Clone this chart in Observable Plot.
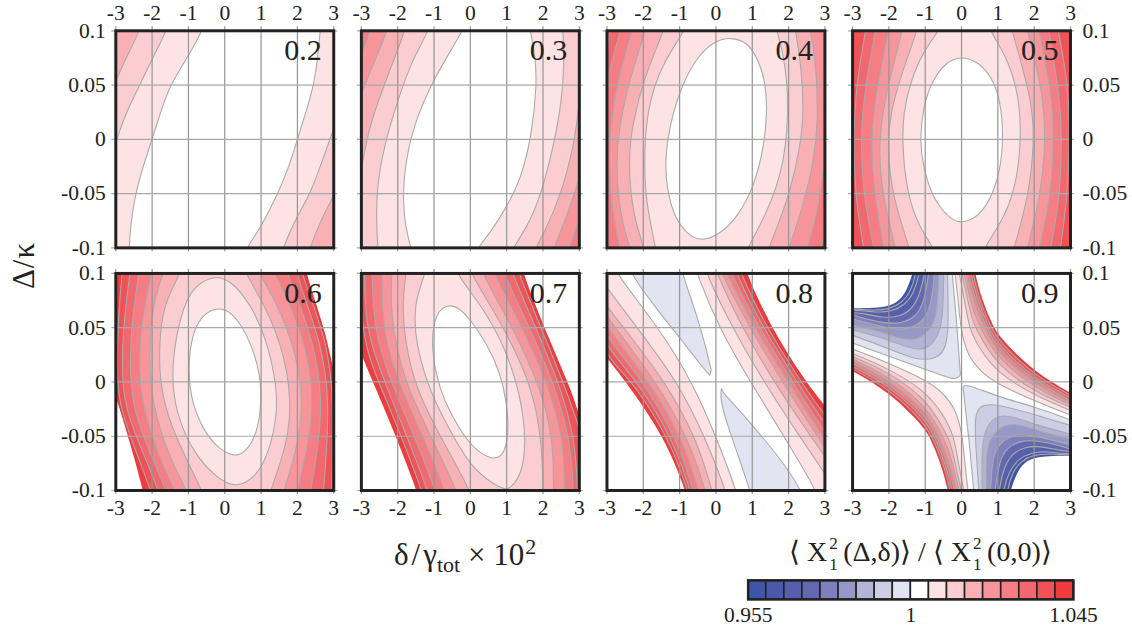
<!DOCTYPE html>
<html><head><meta charset="utf-8">
<script src="https://cdn.jsdelivr.net/npm/d3@7"></script>
<script src="https://cdn.jsdelivr.net/npm/@observablehq/plot@0.6"></script>
<style>
html,body{margin:0;padding:0;background:#fff}
#page{position:relative;width:1132px;height:630px;overflow:hidden;font-family:"Liberation Serif",serif;color:#222}
#main,#legend{position:absolute}
#main{left:0;top:0}
#legend{left:700px;top:578px}
.lab{position:absolute;white-space:nowrap;line-height:1}
sup,sub{line-height:0}
.stack{display:inline-block;position:relative;width:12px;height:0;margin:0 2px}
.stack span{position:absolute;left:0;font-size:17px;line-height:17px}
.stack .up{top:-26px}
.stack .dn{top:-5px}
</style></head><body>
<div id="page">
<div id="main"></div>
<div id="legend"></div>
<div class="lab" style="left:394px;top:539px;font-size:31px">δ<span style="margin:0 3px">/</span>γ<sub style="font-size:22px">tot</sub> × 10<sup style="font-size:22px;margin-left:1px">2</sup></div>
<div class="lab" style="left:-7px;top:250px;width:60px;text-align:center;font-size:31px;letter-spacing:1px;transform:rotate(-90deg)">Δ/κ</div>
<div class="lab" style="left:789px;top:538px;font-size:28px">⟨ X<span class="stack"><span class="up">2</span><span class="dn">1</span></span>(Δ,δ)⟩ / ⟨ X<span class="stack"><span class="up">2</span><span class="dn">1</span></span>(0,0)⟩</div>
</div>
<script>
// Scale and axis values
const xTicks = [-3,-2,-1,0,1,2,3];
const yTicks = [-0.1,-0.05,0,0.05,0.1];
const panelLabels = ["0.2","0.3","0.4","0.5","0.6","0.7","0.8","0.9"];
const levels = [-9,-8,-7,-6,-5,-4,-3,-2,-1,0,1,2,3,4,5,6,7,8];
const levelColors = ["#3f55a8","#4a59a9","#565fac","#6368b0","#7d80bc","#9797c8","#b3b3d8","#cdcde6","#e3e4f1","#ffffff","#fde3e4","#fbccd0","#f9b0b5","#f7959b","#f57d83","#f3686e","#f15258","#ef3b3e"];
const legendStart = [0.955,0.96,0.965,0.97,0.975,0.98,0.985,0.99,0.995,1,1.005,1.01,1.015,1.02,1.025,1.03,1.035,1.04];
const legendTicks = [0.955,1,1.045];

// Side of the frame a contour is closed against
const L="L", R="R", O="O", A="A"; // left lobe, right lobe, closed ring, whole panel

// Contours: [level, closure, [δ, Δ] points], painted in order
const c02 = [
 [1,L,[[-.55,.11],[-.62,.1],[-1,.077],[-1.5,.05],[-1.72,.03],[-2,0],[-2.25,-.025],[-2.46,-.05],[-2.6,-.08],[-2.63,-.1],[-2.63,-.11]]],
 [2,L,[[-1.55,.11],[-1.6,.1],[-2,.074],[-2.34,.05],[-2.73,.024],[-2.97,0],[-3.1,-.012]]],
 [3,L,[[-2.3,.11],[-2.34,.1],[-2.69,.077],[-3,.054],[-3.1,.045]]],
 [1,R,[[.5,-.11],[.6,-.1],[1,-.081],[1.46,-.05],[1.75,-.027],[2,0],[2.28,.03],[2.45,.05],[2.56,.075],[2.63,.1],[2.64,.11]]],
 [2,R,[[1.55,-.11],[1.6,-.1],[2,-.07],[2.36,-.05],[2.68,-.02],[2.95,.005],[3.1,.02]]],
 [3,R,[[2.28,-.11],[2.34,-.1],[2.64,-.075],[2.95,-.055],[3.1,-.045]]]
];
const c03 = [
 [1,L,[[-.12,.11],[-.2,.1],[-1,.057],[-1.6,.011],[-1.83,-.032],[-1.85,-.056],[-1.79,-.081],[-1.63,-.1],[-1.58,-.11]]],
 [1,R,[[.1,-.11],[.2,-.1],[.55,-.086],[1,-.062],[1.38,-.038],[1.70,.005],[1.83,.051],[1.79,.076],[1.65,.1],[1.6,.11]]],
 [2,L,[[-1.08,.11],[-1.15,.1],[-1.6,.073],[-1.97,.039],[-2.39,-.007],[-2.57,-.044],[-2.59,-.071],[-2.55,-.1],[-2.52,-.11]]],
 [2,R,[[1.1,-.11],[1.17,-.1],[1.56,-.081],[1.93,-.053],[2.29,-.007],[2.52,.036],[2.59,.073],[2.55,.1],[2.52,.11]]],
 [3,L,[[-1.75,.11],[-1.79,.1],[-2.38,.05],[-2.8,.01],[-2.95,-.02],[-3.05,-.03]]],
 [3,R,[[1.73,-.11],[1.79,-.1],[2.02,-.087],[2.48,-.053],[2.84,-.007],[2.95,.02],[3.05,.05]]],
 [4,L,[[-2.25,.11],[-2.29,.1],[-2.57,.077],[-2.94,.048],[-3.05,.035]]],
 [4,R,[[2.24,-.11],[2.29,-.1],[2.66,-.071],[2.95,-.041],[3.05,-.03]]],
 [5,L,[[-2.72,.11],[-2.75,.1],[-2.98,.079],[-3.05,.07]]],
 [5,R,[[2.68,-.11],[2.71,-.1],[2.95,-.079],[3.05,-.07]]]
];
const c04 = [
 [1,A,[]],
 [0,O,[[.39,.094],[.86,.09],[1.18,.073],[1.37,.051],[1.41,.027],[1.34,-.004],[1.05,-.044],[.59,-.072],[.08,-.088],[-.38,-.094],[-.79,-.088],[-1.16,-.071],[-1.36,-.044],[-1.4,-.019],[-1.29,.011],[-.97,.048],[-.51,.077],[-.01,.091]]],
 [2,L,[[-.8,.11],[-.85,.1],[-1.48,.07],[-1.89,.03],[-1.98,-.016],[-1.94,-.056],[-1.66,-.1],[-1.62,-.11]]],
 [2,R,[[.8,-.11],[.86,-.1],[1.41,-.068],[1.87,-.025],[1.99,.021],[1.96,.054],[1.83,.082],[1.67,.1],[1.63,.11]]],
 [3,L,[[-1.38,.11],[-1.43,.1],[-1.98,.057],[-2.3,.014],[-2.42,-.019],[-2.3,-.068],[-1.98,-.1],[-1.93,-.11]]],
 [3,R,[[1.4,-.11],[1.44,-.1],[1.96,-.059],[2.33,-.007],[2.42,.027],[2.35,.067],[2.19,.1],[2.15,.11]]],
 [4,L,[[-1.9,.11],[-1.94,.1],[-2.39,.054],[-2.67,.011],[-2.76,-.025],[-2.62,-.075],[-2.35,-.1],[-2.3,-.11]]],
 [4,R,[[1.96,-.11],[2.01,-.1],[2.42,-.059],[2.7,-.019],[2.81,.014],[2.77,.067],[2.6,.1],[2.56,.11]]],
 [5,L,[[-2.26,.11],[-2.3,.1],[-2.67,.06],[-2.88,.02],[-2.96,-.02],[-2.88,-.06],[-2.65,-.1],[-2.61,-.11]]],
 [5,R,[[2.46,-.11],[2.51,-.1],[2.78,-.07],[2.93,-.035],[3.05,-.005]]],
 [6,L,[[-2.58,.11],[-2.62,.1],[-2.9,.07],[-3.05,.04]]],
 [6,R,[[2.84,-.11],[2.88,-.1],[3.05,-.08]]],
 [7,L,[[-2.88,.11],[-2.92,.1],[-3.05,.07]]]
];
const c05 = [
 [1,A,[]],
 [0,O,[[0,.077],[.48,.071],[.84,.057],[1.07,.036],[1.15,.005],[1.09,-.025],[.84,-.053],[.48,-.071],[0,-.078],[-.35,-.073],[-.81,-.053],[-1.06,-.025],[-1.15,-.001],[-1.06,.03],[-.81,.054],[-.44,.071]]],
 [2,L,[[-.55,.11],[-.61,.1],[-1.04,.082],[-1.4,.054],[-1.61,.024],[-1.63,-.007],[-1.5,-.05],[-1.17,-.081],[-.76,-.1],[-.7,-.11]]],
 [2,R,[[.55,-.11],[.61,-.1],[1.21,-.071],[1.53,-.038],[1.64,.002],[1.6,.036],[1.3,.073],[.78,.1],[.72,.11]]],
 [3,L,[[-1.17,.11],[-1.22,.1],[-1.72,.054],[-1.95,.024],[-2.05,-.004],[-1.91,-.053],[-1.43,-.1],[-1.38,-.11]]],
 [3,R,[[1.39,-.11],[1.44,-.1],[1.85,-.053],[2.01,-.001],[1.94,.036],[1.39,.1],[1.33,.11]]],
 [4,L,[[-1.58,.11],[-1.63,.1],[-2.09,.042],[-2.28,-.001],[-2.23,-.044],[-1.82,-.1],[-1.77,-.11]]],
 [4,R,[[1.76,-.11],[1.81,-.1],[2.17,-.053],[2.33,-.001],[2.22,.048],[1.81,.1],[1.76,.11]]],
 [5,L,[[-1.96,.11],[-2,.1],[-2.37,.042],[-2.5,-.001],[-2.41,-.05],[-2.14,-.1],[-2.1,-.11]]],
 [5,R,[[2.09,-.11],[2.13,-.1],[2.45,-.056],[2.54,-.001],[2.5,.039],[2.13,.1],[2.08,.11]]],
 [6,L,[[-2.33,.11],[-2.37,.1],[-2.69,.042],[-2.78,-.001],[-2.69,-.056],[-2.41,-.1],[-2.37,-.11]]],
 [6,R,[[2.41,-.11],[2.45,-.1],[2.7,-.056],[2.77,-.001],[2.7,.042],[2.4,.1],[2.36,.11]]],
 [7,L,[[-2.6,.11],[-2.64,.1],[-2.9,.051],[-2.98,-.001],[-2.92,-.056],[-2.69,-.1],[-2.65,-.11]]],
 [7,R,[[2.68,-.11],[2.72,-.1],[2.91,-.056],[2.98,-.001],[2.94,.051],[2.66,.1],[2.62,.11]]]
];
const c06 = [
 [2,A,[]],
 [1,O,[[-.3,.098],[.16,.094],[.71,.072],[1.17,.038],[1.44,-.005],[1.44,-.035],[1.12,-.075],[.71,-.091],[.29,-.097],[-.21,-.089],[-.85,-.066],[-1.27,-.035],[-1.45,-.005],[-1.42,.029],[-1.13,.072],[-.81,.089]]],
 [0,O,[[-.26,.068],[.06,.067],[.43,.055],[.8,.029],[.98,.005],[1.01,-.02],[.89,-.048],[.57,-.065],[.27,-.069],[-.17,-.062],[-.58,-.045],[-.9,-.02],[-1.01,.008],[-.93,.042],[-.62,.062]]],
 [3,L,[[-1.17,.11],[-1.22,.1],[-1.68,.072],[-1.82,.035],[-1.77,-.011],[-1.36,-.051],[-.62,-.1],[-.55,-.11]]],
 [3,R,[[1.2,-.11],[1.26,-.1],[1.72,-.057],[1.85,-.017],[1.58,.035],[.98,.078],[.57,.1],[.5,.11]]],
 [4,L,[[-1.63,.11],[-1.68,.1],[-2,.072],[-2.09,.02],[-2,-.02],[-1.54,-.069],[-1.04,-.1],[-.98,-.11]]],
 [4,R,[[1.57,-.11],[1.62,-.1],[2.04,-.057],[2.16,-.011],[1.9,.035],[1.35,.078],[.94,.1],[.88,.11]]],
 [5,L,[[-1.98,.11],[-2.02,.1],[-2.32,.051],[-2.37,.008],[-2.23,-.026],[-1.82,-.069],[-1.36,-.1],[-1.3,-.11]]],
 [5,R,[[1.94,-.11],[1.99,-.1],[2.31,-.057],[2.45,-.011],[2.22,.035],[1.72,.078],[1.35,.1],[1.3,.11]]],
 [6,L,[[-2.34,.11],[-2.37,.1],[-2.58,.051],[-2.62,.005],[-2.48,-.03],[-2.05,-.066],[-1.61,-.1],[-1.55,-.11]]],
 [6,R,[[2.32,-.11],[2.36,-.1],[2.59,-.057],[2.68,-.011],[2.45,.035],[1.99,.078],[1.72,.1],[1.66,.11]]],
 [7,L,[[-2.58,.11],[-2.61,.1],[-2.8,.051],[-2.84,0],[-2.68,-.03],[-2.28,-.063],[-1.82,-.1],[-1.77,-.11]]],
 [7,R,[[2.69,-.11],[2.72,-.1],[2.82,-.057],[2.86,-.011],[2.65,.035],[2.19,.078],[1.99,.1],[1.93,.11]]],
 [8,L,[[-2.8,.11],[-2.83,.1],[-2.95,.051],[-2.97,0],[-2.86,-.025],[-2.5,-.06],[-2.03,-.1],[-1.98,-.11]]],
 [8,R,[[2.94,-.11],[2.95,-.1],[2.97,-.04],[2.97,-.011],[2.82,.035],[2.36,.078],[2.13,.1],[2.08,.11]]]
];
const c07 = [
 [2,A,[]],
 [1,O,[[-.33,.11],[-.41,.1],[.28,.072],[.92,.035],[1.38,-.011],[1.54,-.054],[1.42,-.085],[1.1,-.098],[.92,-.1],[.09,-.082],[-.46,-.051],[-1.1,-.011],[-1.51,.035],[-1.56,.072],[-1.24,.1],[-1.2,.11]]],
 [0,O,[[-.64,.072],[-.28,.068],[.05,.055],[.46,.035],[.83,.008],[1.01,-.02],[1.06,-.048],[.92,-.068],[.6,-.072],[.14,-.063],[-.28,-.045],[-.73,-.017],[-.96,.008],[-1.08,.038],[-.96,.063]]],
 [3,L,[[-1.75,.11],[-1.77,.1],[-1.88,.072],[-1.79,.035],[-1.51,-.005],[-.87,-.048],[0,-.1],[.05,-.11]]],
 [3,R,[[2,-.11],[2,-.1],[1.97,-.054],[1.7,-.004],[.92,.051],[0,.1],[-.05,.11]]],
 [4,L,[[-2.15,.11],[-2.16,.1],[-2.2,.072],[-2.06,.035],[-1.74,-.005],[-1.12,-.048],[-.37,-.1],[-.32,-.11]]],
 [4,R,[[2.29,-.11],[2.29,-.1],[2.29,-.054],[1.93,-.004],[1.15,.051],[.32,.1],[.27,.11]]],
 [5,L,[[-2.43,.11],[-2.43,.1],[-2.43,.072],[-2.34,.038],[-1.93,-.005],[-1.33,-.048],[-.69,-.1],[-.64,-.11]]],
 [5,R,[[2.59,-.11],[2.59,-.1],[2.57,-.054],[2.16,-.004],[1.42,.051],[.64,.1],[.59,.11]]],
 [6,L,[[-2.71,.11],[-2.71,.1],[-2.68,.072],[-2.57,.038],[-2.13,-.005],[-1.56,-.048],[-.96,-.1],[-.91,-.11]]],
 [6,R,[[2.84,-.11],[2.84,-.1],[2.75,-.054],[2.34,-.004],[1.61,.051],[.92,.1],[.87,.11]]],
 [7,L,[[-2.92,.11],[-2.92,.1],[-2.89,.066],[-2.77,.038],[-2.31,-.005],[-1.77,-.048],[-1.17,-.1],[-1.12,-.11]]],
 [7,R,[[2.95,-.11],[2.95,-.1],[2.89,-.054],[2.48,-.004],[1.79,.051],[1.15,.1],[1.1,.11]]],
 [8,L,[[-3.05,.08],[-2.89,.029],[-2.46,-.005],[-1.93,-.048],[-1.33,-.1],[-1.28,-.11]]],
 [8,R,[[3.07,-.05],[2.61,-.004],[1.93,.051],[1.33,.1],[1.28,.11]]]
];
const c08 = [
 [1,L,[[-2.8,.11],[-2.76,.1],[-1.57,.05],[-.65,0],[0,-.05],[.56,-.1],[.62,-.11]]],
 [2,L,[[-3.05,.089],[-2.17,.05],[-1.05,0],[-.31,-.05],[.27,-.1],[.33,-.11]]],
 [3,L,[[-3.05,.072],[-2.54,.05],[-1.39,0],[-.56,-.05],[-.1,-.1],[-.05,-.11]]],
 [4,L,[[-3.05,.063],[-2.7,.047],[-1.64,0],[-.79,-.05],[-.28,-.1],[-.24,-.11]]],
 [5,L,[[-3.05,.054],[-2.45,.027],[-1.84,0],[-.95,-.05],[-.47,-.1],[-.43,-.11]]],
 [6,L,[[-3.05,.045],[-2.5,.02],[-2.01,0],[-1.1,-.05],[-.61,-.1],[-.57,-.11]]],
 [7,L,[[-3.05,.037],[-2.6,.016],[-2.17,0],[-1.22,-.05],[-.7,-.1],[-.66,-.11]]],
 [8,L,[[-3.05,.029],[-2.7,.012],[-2.3,0],[-1.32,-.05],[-.77,-.1],[-.73,-.11]]],
 [1,R,[[2.82,-.11],[2.77,-.1],[1.87,-.05],[.95,0],[.08,.05],[-.53,.1],[-.58,.11]]],
 [2,R,[[3.05,-.087],[2.3,-.05],[1.32,0],[.45,.05],[-.27,.1],[-.32,.11]]],
 [3,R,[[3.05,-.071],[2.4,-.04],[1.6,0],[.72,.05],[.02,.1],[-.03,.11]]],
 [4,R,[[3.05,-.063],[2.5,-.035],[1.83,0],[.93,.05],[.15,.1],[.1,.11]]],
 [5,R,[[3.05,-.056],[2.55,-.03],[1.98,0],[1.06,.05],[.28,.1],[.23,.11]]],
 [6,R,[[3.05,-.048],[2.6,-.026],[2.12,0],[1.18,.05],[.41,.1],[.36,.11]]],
 [7,R,[[3.05,-.04],[2.65,-.021],[2.24,0],[1.29,.05],[.55,.1],[.5,.11]]],
 [8,R,[[3.05,-.033],[2.7,-.017],[2.35,0],[1.39,.05],[.68,.1],[.63,.11]]],
 [-1,O,[[-2.42,.11],[-2.35,.1],[-1.61,.066],[-.97,.04],[-.38,.014],[-.17,.006],[-.17,.006],[-.13,.011],[-.13,.011],[-.28,.032],[-.51,.06],[-.93,.1],[-.97,.11]]],
 [-1,O,[[.15,-.006],[.15,-.006],[.11,-.017],[.4,-.048],[.95,-.1],[.98,-.11],[2.42,-.11],[2.35,-.1],[1.87,-.075],[1.14,-.045],[.4,-.017],[.22,-.011]]]
];
const c09 = [
 [1,L,[[-3.05,.031],[-2.04,.018],[-1,.002],[-.57,-.008],[-.16,-.024],[.03,-.05],[.09,-.075],[.18,-.1],[.2,-.11]]],
 [2,L,[[-3.05,.027],[-2.04,.013],[-1,-.008],[-.5,-.03],[-.2,-.05],[-.09,-.075],[.07,-.1],[.09,-.11]]],
 [3,L,[[-3.05,.024],[-2.04,.01],[-1,-.015],[-.55,-.04],[-.3,-.055],[-.18,-.075],[0,-.1],[.03,-.11]]],
 [4,L,[[-3.05,.022],[-2.04,.006],[-1,-.021],[-.6,-.045],[-.38,-.06],[-.25,-.075],[-.06,-.1],[-.04,-.11]]],
 [5,L,[[-3.05,.02],[-2.04,.003],[-1,-.026],[-.65,-.047],[-.32,-.075],[-.13,-.1],[-.1,-.11]]],
 [6,L,[[-3.05,.018],[-2.04,0],[-1,-.03],[-.68,-.05],[-.39,-.075],[-.18,-.1],[-.16,-.11]]],
 [7,L,[[-3.05,.015],[-2.04,-.002],[-1,-.034],[-.72,-.052],[-.45,-.075],[-.25,-.1],[-.22,-.11]]],
 [8,L,[[-3.05,.013],[-2.04,-.005],[-1,-.038],[-.75,-.055],[-.5,-.075],[-.31,-.1],[-.28,-.11]]],
 [1,R,[[3.05,-.031],[2.04,-.018],[1,-.002],[.57,.008],[.16,.024],[-.03,.05],[-.09,.075],[-.18,.1],[-.2,.11]]],
 [2,R,[[3.05,-.027],[2.04,-.013],[1,.008],[.5,.03],[.2,.05],[.09,.075],[-.07,.1],[-.09,.11]]],
 [3,R,[[3.05,-.024],[2.04,-.01],[1,.015],[.55,.04],[.3,.055],[.18,.075],[0,.1],[-.03,.11]]],
 [4,R,[[3.05,-.022],[2.04,-.006],[1,.021],[.6,.045],[.38,.06],[.25,.075],[.06,.1],[.04,.11]]],
 [5,R,[[3.05,-.02],[2.04,-.003],[1,.026],[.65,.047],[.32,.075],[.13,.1],[.1,.11]]],
 [6,R,[[3.05,-.018],[2.04,0],[1,.03],[.68,.05],[.39,.075],[.18,.1],[.16,.11]]],
 [7,R,[[3.05,-.015],[2.04,.002],[1,.034],[.72,.052],[.45,.075],[.25,.1],[.22,.11]]],
 [8,R,[[3.05,-.013],[2.04,.005],[1,.038],[.75,.055],[.5,.075],[.31,.1],[.28,.11]]],
 [-1,L,[[-.27,.11],[-.26,.1],[-.15,.063],[-.06,.02],[-.03,.006],[-.03,.006],[-.17,.002],[-.44,.005],[-1.45,.017],[-3,.036],[-3.1,.037]]],
 [-2,L,[[-.39,.11],[-.39,.1],[-.35,.051],[-.44,.029],[-.72,.021],[-1.27,.02],[-2.09,.032],[-3,.043],[-3.1,.044]]],
 [-3,L,[[-.49,.11],[-.49,.1],[-.51,.057],[-.67,.04],[-.99,.029],[-1.45,.031],[-2.09,.04],[-3,.048],[-3.1,.049]]],
 [-4,L,[[-.62,.11],[-.62,.1],[-.67,.06],[-.9,.046],[-1.27,.038],[-1.72,.04],[-2.37,.048],[-3,.052],[-3.1,.053]]],
 [-5,L,[[-.73,.11],[-.74,.1],[-.85,.066],[-1.13,.054],[-1.5,.048],[-1.95,.049],[-2.55,.054],[-3,.058],[-3.1,.059]]],
 [-6,L,[[-.88,.11],[-.9,.1],[-1.04,.072],[-1.27,.06],[-1.63,.054],[-2.09,.054],[-2.64,.058],[-3,.062],[-3.1,.063]]],
 [-7,L,[[-.98,.11],[-1.01,.1],[-1.17,.078],[-1.4,.066],[-1.72,.06],[-2.18,.059],[-2.64,.063],[-3,.064],[-3.1,.064]]],
 [-8,L,[[-1.13,.11],[-1.16,.1],[-1.31,.082],[-1.56,.071],[-1.91,.065],[-2.37,.064],[-2.74,.066],[-3,.066],[-3.1,.066]]],
 [-9,L,[[-1.22,.11],[-1.25,.1],[-1.4,.083],[-1.64,.073],[-1.98,.067],[-2.46,.066],[-2.8,.067],[-3,.067],[-3.1,.067]]],
 [-1,R,[[.35,-.11],[.34,-.1],[.2,-.051],[.06,-.011],[.04,-.004],[.04,-.004],[.16,-.002],[1.03,-.014],[2.04,-.023],[3,-.035],[3.1,-.036]]],
 [-2,R,[[.49,-.11],[.48,-.1],[.37,-.05],[.38,-.03],[.5,-.022],[.85,-.02],[1.48,-.025],[2.2,-.032],[3,-.04],[3.1,-.041]]],
 [-3,R,[[.57,-.11],[.57,-.1],[.55,-.057],[.7,-.04],[1,-.03],[1.45,-.032],[2.09,-.04],[3,-.048],[3.1,-.049]]],
 [-4,R,[[.68,-.11],[.68,-.1],[.67,-.06],[.9,-.046],[1.27,-.038],[1.72,-.04],[2.37,-.048],[3,-.052],[3.1,-.053]]],
 [-5,R,[[.79,-.11],[.8,-.1],[.85,-.066],[1.13,-.054],[1.5,-.048],[1.95,-.049],[2.55,-.054],[3,-.058],[3.1,-.059]]],
 [-6,R,[[.9,-.11],[.92,-.1],[1.04,-.072],[1.27,-.06],[1.63,-.054],[2.09,-.054],[2.64,-.058],[3,-.062],[3.1,-.063]]],
 [-7,R,[[1,-.11],[1.03,-.1],[1.17,-.078],[1.4,-.066],[1.72,-.06],[2.18,-.059],[2.64,-.063],[3,-.064],[3.1,-.064]]],
 [-8,R,[[1.12,-.11],[1.15,-.1],[1.31,-.082],[1.56,-.071],[1.91,-.065],[2.37,-.064],[2.74,-.066],[3,-.066],[3.1,-.066]]],
 [-9,R,[[1.23,-.11],[1.26,-.1],[1.4,-.083],[1.64,-.073],[1.98,-.067],[2.46,-.066],[2.8,-.067],[3,-.067],[3.1,-.067]]]
];
const contoursByPanel = [c02,c03,c04,c05,c06,c07,c08,c09];

// Areas beyond the colour range, left white: [closure, points]
const beyond06 = [[R,[[3.05,.005],[2.95,.017],[2.77,.045],[2.54,.069],[2.25,.1],[2.2,.11]]],[L,[[-3.05,-.01],[-2.96,-.017],[-2.6,-.057],[-2.25,-.1],[-2.2,-.11]]]];
const beyond07 = [[R,[[3.07,-.038],[2.95,-.026],[2.75,-.005],[2.02,.051],[1.45,.1],[1.41,.11]]],[L,[[-3.05,.03],[-2.97,.023],[-2.62,-.005],[-2.11,-.045],[-1.47,-.1],[-1.42,-.11]]]];
const beyond08 = [[R,[[3.05,-.024],[2.47,0],[1.52,.05],[.84,.1],[.79,.11]]],[L,[[-3.05,.024],[-2.47,0],[-1.43,-.05],[-.83,-.1],[-.8,-.11]]]];
const beyond09 = [
 [R,[[3.05,-.011],[2.04,.008],[1,.042],[.8,.057],[.57,.075],[.37,.1],[.34,.11]]],
 [L,[[-3.05,.011],[-2.04,-.008],[-1,-.042],[-.8,-.057],[-.57,-.075],[-.37,-.1],[-.34,-.11]]],
 [L,[[-1.3,.11],[-1.34,.1],[-1.5,.085],[-1.72,.074],[-2.05,.069],[-2.55,.068],[-3,.068],[-3.1,.068]]],
 [R,[[1.31,-.11],[1.35,-.1],[1.5,-.085],[1.72,-.074],[2.05,-.069],[2.55,-.068],[3,-.068],[3.1,-.068]]]
];
const beyondByPanel = [[],[],[],[],beyond06,beyond07,beyond08,beyond09];

const closures = {
  L: [[-4,-.2],[-4,.2]],
  R: [[4,.2],[4,-.2]],
  O: [],
  A: [[-4,.2],[4,.2],[4,-.2],[-4,-.2]]
};
function rows(kindKey, list, panel) {
  return list.flatMap((item, i) => {
    const [level, closure, pts] = kindKey === "c" ? item : [0, item[0], item[1]];
    // the curve ends on its last read point before turning away outside the frame
    const tail = (closure === "L" || closure === "R") ? [pts[pts.length - 1], pts[pts.length - 1]] : [];
    return pts.concat(tail, closures[closure]).map(([x, y]) => ({
      id: `${kindKey}${panel}-${i}`, closure, col: panel % 4, row: Math.floor(panel / 4), level, x, y
    }));
  });
}
const contourRows = contoursByPanel.flatMap((l, p) => rows("c", l, p));
const beyondRows = beyondByPanel.flatMap((l, p) => rows("b", l, p));
const labelRows = panelLabels.map((text, p) => ({text, col: p % 4, row: Math.floor(p / 4)}));

const font = {fontFamily: '"Liberation Serif", serif', fontSize: "21.5px", color: "#222", background: "transparent"};
const fmt = d => String(d);
const gridColor = "#959595";
const contourStroke = "#aaaaaa";
const contourOpts = {x: "x", y: "y", z: "id", fx: "col", fy: "row", fill: "level", stroke: contourStroke, strokeWidth: 1.1, clip: "frame"};

const main = Plot.plot({
  width: 1132, height: 520,
  marginLeft: 115.3, marginRight: 62, marginTop: 30.3, marginBottom: 30,
  style: font,
  x: {domain: [-3, 3], label: null, axis: null},
  y: {domain: [-0.1, 0.1], label: null, axis: null},
  fx: {domain: [0,1,2,3], axis: null, paddingInner: 0.1126, paddingOuter: 0, round: false, label: null},
  fy: {domain: [0,1], axis: null, paddingInner: 0.1054, paddingOuter: 0, round: false, label: null},
  color: {type: "ordinal", domain: levels, range: levelColors},
  marks: [
    Plot.line(contourRows.filter(d => d.closure === "A"), {...contourOpts, curve: "linear"}),
    Plot.line(contourRows.filter(d => d.closure === "O"), {...contourOpts, curve: "basis-closed"}),
    Plot.line(contourRows.filter(d => d.closure === "L" || d.closure === "R"), {...contourOpts, curve: "basis"}),
    Plot.line(beyondRows, {x: "x", y: "y", z: "id", fx: "col", fy: "row", fill: "#ffffff", stroke: "none", curve: "basis", clip: "frame"}),
    Plot.gridX(xTicks, {stroke: gridColor, strokeOpacity: 1, strokeWidth: 1.2, insetTop: -4, insetBottom: -4}),
    Plot.gridY(yTicks, {stroke: "#a8a8a8", strokeOpacity: 1, strokeWidth: 1.2, insetLeft: -4, insetRight: -4}),
    Plot.axisX(xTicks, {anchor: "top", facetAnchor: "top", tickSize: 0, tickPadding: 11, tickFormat: fmt, label: null}),
    Plot.axisX(xTicks, {anchor: "bottom", facetAnchor: "bottom", tickSize: 0, tickPadding: 9, tickFormat: fmt, label: null}),
    Plot.axisY(yTicks, {anchor: "left", facetAnchor: "left", tickSize: 0, tickPadding: 10, tickFormat: fmt, label: null}),
    Plot.axisY(yTicks, {anchor: "right", facetAnchor: "right", tickSize: 0, tickPadding: 12, tickFormat: fmt, label: null}),
    Plot.frame({stroke: "#222", strokeWidth: 3}),
    Plot.text(labelRows, {fx: "col", fy: "row", text: "text", frameAnchor: "top-right", dx: -12, dy: 8, fontSize: 30, fill: "#222"})
  ]
});
document.getElementById("main").append(main);

const legendRows = legendStart.map((lo, i) => ({lo, hi: legendStart[i + 1] ?? legendTicks[2], level: levels[i]}));
const legend = Plot.plot({
  width: 420, height: 52,
  marginLeft: 47.7, marginRight: 47, marginTop: 2, marginBottom: 31,
  style: font,
  x: {domain: [legendTicks[0], legendTicks[2]], label: null, axis: null},
  y: {axis: null},
  color: {type: "ordinal", domain: levels, range: levelColors},
  marks: [
    Plot.rect(legendRows, {x1: "lo", x2: "hi", fill: "level", stroke: "#222", strokeWidth: 1.6}),
    Plot.frame({stroke: "#222", strokeWidth: 2.4}),
    Plot.axisX(legendTicks, {anchor: "bottom", tickSize: 0, tickPadding: 7, tickFormat: fmt, label: null})
  ]
});
document.getElementById("legend").append(legend);
</script>
</body></html>
